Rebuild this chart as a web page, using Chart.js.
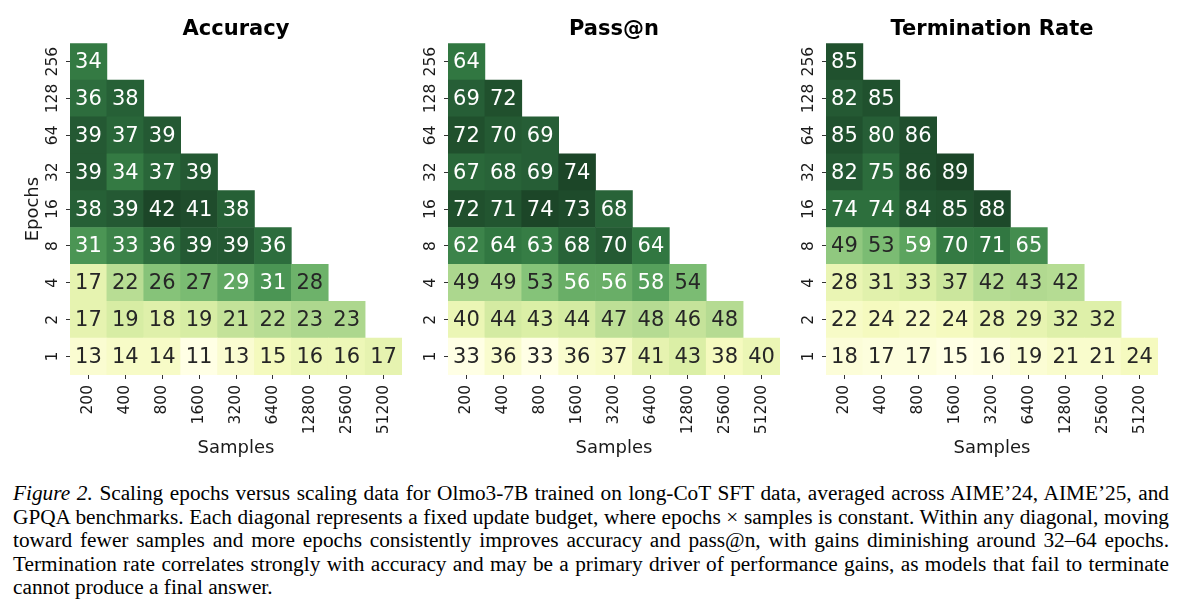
<!DOCTYPE html>
<html>
<head>
<meta charset="utf-8">
<script src="https://cdn.jsdelivr.net/npm/chart.js@4.4.1/dist/chart.umd.min.js"></script>
<style>
  html, body { margin: 0; padding: 0; background: #fff; }
  #page { position: relative; width: 1200px; height: 608px; overflow: hidden; }
  .panel { position: absolute; top: 0; }
  #caption {
    position: absolute; left: 13px; top: 482px; width: 1156px;
    font-family: 'Liberation Serif', 'Times New Roman', serif;
    font-size: 21.3px; line-height: 23.5px; color: #000;
  }
  #caption .line { text-align: justify; text-align-last: justify; }
  #caption .line.last { text-align-last: left; }
</style>
</head>
<body>
<div id="page">
  <canvas id="accChart" class="panel" width="410" height="460" style="left:0px"></canvas>
  <canvas id="passChart" class="panel" width="410" height="460" style="left:378px"></canvas>
  <canvas id="termChart" class="panel" width="410" height="460" style="left:756px"></canvas>
  <div id="caption">
    <div class="line"><i>Figure 2.</i> Scaling epochs versus scaling data for Olmo3-7B trained on long-CoT SFT data, averaged across AIME’24, AIME’25, and</div>
    <div class="line">GPQA benchmarks. Each diagonal represents a fixed update budget, where epochs × samples is constant. Within any diagonal, moving</div>
    <div class="line">toward fewer samples and more epochs consistently improves accuracy and pass@n, with gains diminishing around 32–64 epochs.</div>
    <div class="line">Termination rate correlates strongly with accuracy and may be a primary driver of performance gains, as models that fail to terminate</div>
    <div class="line last">cannot produce a final answer.</div>
  </div>
</div>
<script>
// Tick labels
const samples = ['200', '400', '800', '1600', '3200', '6400', '12800', '25600', '51200'];
const epochs = ['1', '2', '4', '8', '16', '32', '64', '128', '256'];

// One row per epoch count (1 at the bottom up to 256), one value per sample size
const accuracy = [
    [13, 14, 14, 11, 13, 15, 16, 16, 17],
    [17, 19, 18, 19, 21, 22, 23, 23],
    [17, 22, 26, 27, 29, 31, 28],
    [31, 33, 36, 39, 39, 36],
    [38, 39, 42, 41, 38],
    [39, 34, 37, 39],
    [39, 37, 39],
    [36, 38],
    [34]
];
const passAtN = [
    [33, 36, 33, 36, 37, 41, 43, 38, 40],
    [40, 44, 43, 44, 47, 48, 46, 48],
    [49, 49, 53, 56, 56, 58, 54],
    [62, 64, 63, 68, 70, 64],
    [72, 71, 74, 73, 68],
    [67, 68, 69, 74],
    [72, 70, 69],
    [69, 72],
    [64]
];
const terminationRate = [
    [18, 17, 17, 15, 16, 19, 21, 21, 24],
    [22, 24, 22, 24, 28, 29, 32, 32],
    [28, 31, 33, 37, 42, 43, 42],
    [49, 53, 59, 70, 71, 65],
    [74, 74, 84, 85, 88],
    [82, 75, 86, 89],
    [85, 80, 86],
    [82, 85],
    [85]
];

Chart.defaults.font.family = '"DejaVu Sans", sans-serif';

// YlGn-like colour ramp (slightly muted, as in the printed figure)
const ramp = [
    [255, 255, 229], [245, 250, 190], [218, 238, 165], [178, 218, 145],
    [128, 192, 118], [80, 155, 88], [50, 120, 66], [38, 95, 54], [28, 70, 40]
];

function cellColor(t) {
    const p = Math.max(0, Math.min(1, t)) * (ramp.length - 1);
    const i = Math.min(Math.floor(p), ramp.length - 2);
    const f = p - i;
    const c = ramp[i].map((a, k) => Math.round(a + (ramp[i + 1][k] - a) * f));
    return `rgb(${c[0]}, ${c[1]}, ${c[2]})`;
}

// Writes the value in the middle of every cell
const cellLabels = {
    id: 'cellLabels',
    afterDatasetsDraw(chart, args, opts) {
        const ctx = chart.ctx;
        ctx.save();
        ctx.font = '21px "DejaVu Sans"';
        ctx.textAlign = 'center';
        ctx.textBaseline = 'middle';
        chart.data.datasets.forEach((ds, i) => {
            const row = opts.values[i];
            chart.getDatasetMeta(i).data.forEach((bar, j) => {
                if (j >= row.length) return;
                const t = (row[j] - opts.vmin) / (opts.vmax - opts.vmin);
                ctx.fillStyle = t > 0.555 ? '#ffffff' : '#262626';
                ctx.fillText(String(row[j]), bar.x, (bar.y + bar.base) / 2 + 1);
            });
        });
        ctx.restore();
    }
};

function buildPanel(canvasId, values, title, showEpochs) {
    const flat = values.flat();
    const vmin = Math.min(...flat);
    const vmax = Math.max(...flat);

    const datasets = values.map((row, i) => ({
        label: epochs[i],
        data: samples.map((s, j) => (j < row.length ? [i, i + 1] : null)),
        backgroundColor: samples.map((s, j) => (j < row.length ? cellColor((row[j] - vmin) / (vmax - vmin)) : 'rgba(0,0,0,0)')),
        borderWidth: 0,
        barPercentage: 1,
        categoryPercentage: 1,
        grouped: false
    }));

    const tickGrid = {
        display: true,
        drawOnChartArea: false,
        drawTicks: true,
        tickLength: 4,
        offset: false,
        color: '#333333',
        lineWidth: 1
    };

    new Chart(document.getElementById(canvasId), {
        type: 'bar',
        data: { labels: samples, datasets: datasets },
        plugins: [cellLabels],
        options: {
            responsive: false,
            animation: false,
            layout: { padding: { left: 0, right: 8, top: 0, bottom: 0 } },
            plugins: {
                legend: { display: false },
                tooltip: { enabled: false },
                title: {
                    display: true,
                    text: title,
                    fullSize: false,
                    color: '#000000',
                    font: { size: 21, weight: 'bold' },
                    padding: { top: 17, bottom: 1 }
                },
                cellLabels: { values: values, vmin: vmin, vmax: vmax }
            },
            scales: {
                x: {
                    type: 'category',
                    offset: true,
                    grid: tickGrid,
                    border: { display: false },
                    ticks: {
                        autoSkip: false,
                        minRotation: 90,
                        maxRotation: 90,
                        padding: 6,
                        color: '#1a1a1a',
                        font: { size: 15.5 }
                    },
                    title: {
                        display: true,
                        text: 'Samples',
                        color: '#1a1a1a',
                        font: { size: 18 },
                        padding: { top: 0, bottom: 1 }
                    },
                    afterFit: (scale) => { scale.height = 85; }
                },
                y: {
                    type: 'linear',
                    min: 0,
                    max: 9,
                    afterBuildTicks: (scale) => {
                        scale.ticks = epochs.map((e, i) => ({ value: i + 0.5 }));
                    },
                    grid: tickGrid,
                    border: { display: false },
                    ticks: {
                        autoSkip: false,
                        minRotation: 90,
                        maxRotation: 90,
                        crossAlign: 'center',
                        padding: -2,
                        color: '#1a1a1a',
                        font: { size: 15.5 },
                        callback: (value, index) => epochs[index]
                    },
                    title: {
                        display: showEpochs,
                        text: 'Epochs',
                        color: '#1a1a1a',
                        font: { size: 18 },
                        padding: { top: 23, bottom: 0 }
                    },
                    afterFit: (scale) => { scale.width = 70; }
                }
            }
        }
    });
}

buildPanel('accChart', accuracy, 'Accuracy', true);
buildPanel('passChart', passAtN, 'Pass@n', false);
buildPanel('termChart', terminationRate, 'Termination Rate', false);
</script>
</body>
</html>
